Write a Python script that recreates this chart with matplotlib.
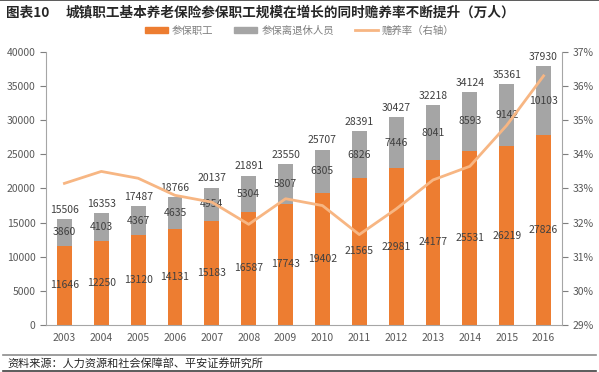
import matplotlib
matplotlib.use("Agg")
import matplotlib.pyplot as plt
from matplotlib.ticker import FuncFormatter
from matplotlib.lines import Line2D
import numpy as np

plt.rcParams['font.family'] = ['Noto Sans CJK SC', 'DejaVu Sans']

years = ['2003', '2004', '2005', '2006', '2007', '2008', '2009',
         '2010', '2011', '2012', '2013', '2014', '2015', '2016']
workers = [11646, 12250, 13120, 14131, 15183, 16587, 17743,
           19402, 21565, 22981, 24177, 25531, 26219, 27826]
retirees = [3860, 4103, 4367, 4635, 4954, 5304, 5807,
            6305, 6826, 7446, 8041, 8593, 9142, 10103]
totals = [15506, 16353, 17487, 18766, 20137, 21891, 23550,
          25707, 28391, 30427, 32218, 34124, 35361, 37930]
ratio = [33.15, 33.5, 33.3, 32.8, 32.6, 31.95, 32.7,
         32.5, 31.65, 32.4, 33.25, 33.65, 34.85, 36.3]

orange = '#ED7D31'
gray = '#A5A5A5'
line_c = '#F7B683'
txt = '#404040'

fig = plt.figure(figsize=(5.99, 3.72), dpi=100)
ax = fig.add_axes([0.0768, 0.1263, 0.8614, 0.734])
ax2 = ax.twinx()

x = np.arange(len(years))
w = 0.4
ax.bar(x, workers, w, color=orange, zorder=2)
ax.bar(x, retirees, w, bottom=workers, color=gray, zorder=2)

for i in range(len(years)):
    ax.text(x[i], workers[i] / 2, str(workers[i]), ha='center', va='center',
            fontsize=7.5, color=txt, zorder=5)
    ax.text(x[i], workers[i] + retirees[i] / 2, str(retirees[i]), ha='center',
            va='center', fontsize=7.5, color=txt, zorder=5)
    ax.text(x[i], totals[i] + 600, str(totals[i]), ha='center', va='bottom',
            fontsize=7.5, color=txt, zorder=5)

ax2.plot(x, ratio, color=line_c, lw=2, zorder=3)

ax.set_xlim(-0.5, len(years) - 0.5)
ax.set_ylim(0, 40000)
ax.set_yticks(range(0, 40001, 5000))
ax2.set_ylim(29, 37)
ax2.set_yticks(range(29, 38))
ax2.yaxis.set_major_formatter(FuncFormatter(lambda v, p: '%d%%' % v))
ax.set_xticks(x)
ax.set_xticklabels(years)

for a in (ax, ax2):
    for s in a.spines.values():
        s.set_visible(False)
    a.tick_params(colors='#7F7F7F', labelcolor='#595959', labelsize=7.5,
                  length=4, width=0.8)
ax.spines['left'].set_visible(True)
ax.spines['left'].set_color('#A6A6A6')
ax.spines['bottom'].set_visible(True)
ax.spines['bottom'].set_color('#A6A6A6')
ax2.spines['right'].set_visible(True)
ax2.spines['right'].set_color('#A6A6A6')
ax.tick_params(axis='x', length=0, pad=6)

handles = [plt.Rectangle((0, 0), 1, 1, color=orange),
           plt.Rectangle((0, 0), 1, 1, color=gray),
           Line2D([0], [0], color=line_c, lw=2)]
labels = ['参保职工', '参保离退休人员', '赡养率（右轴）']
fig.legend(handles, labels, loc='center', bbox_to_anchor=(0.5, 0.918), ncol=3,
           frameon=False, fontsize=7.5, labelcolor='#7F7F7F',
           handlelength=2.2, handleheight=0.6, columnspacing=2.0, handletextpad=0.4)

fig.text(0.01, 0.967, '图表10', fontsize=9.8, fontweight='bold', color='#262626',
         va='center')
fig.text(0.11, 0.967, '城镇职工基本养老保险参保职工规模在增长的同时赡养率不断提升（万人）',
         fontsize=9.8, fontweight='bold', color='#262626', va='center')
fig.add_artist(Line2D([0, 1], [0.999, 0.999], color='#404040', lw=1.2,
                      transform=fig.transFigure))
fig.add_artist(Line2D([0.005, 0.995], [0.046, 0.046], color='#8C8C8C', lw=1.2,
                      transform=fig.transFigure))
fig.add_artist(Line2D([0.005, 0.995], [0.003, 0.003], color='#404040', lw=1.2,
                      transform=fig.transFigure))
fig.text(0.012, 0.022, '资料来源：人力资源和社会保障部、平安证券研究所', fontsize=8,
         style='italic', color='#262626', va='center')

fig.savefig('out.png', dpi=100)
